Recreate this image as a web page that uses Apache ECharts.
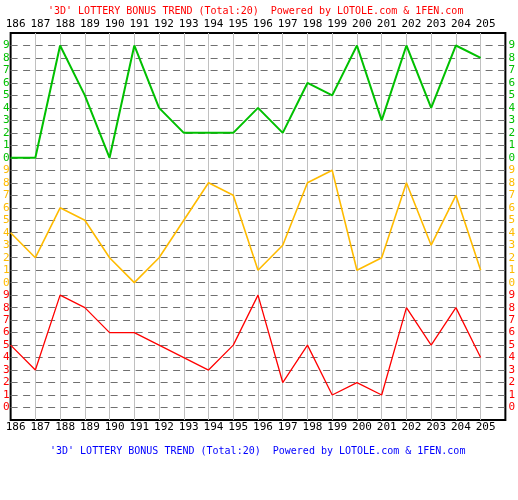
<!DOCTYPE html>
<html>
<head>
<meta charset="utf-8">
<script src="https://cdn.jsdelivr.net/npm/echarts@6/dist/echarts.min.js"></script>
<style>html,body{margin:0;padding:0;background:#fff;}#c{width:518px;height:500px;}</style>
</head>
<body>
<div id="c"></div>
<script>
const issues = [186,187,188,189,190,191,192,193,194,195,196,197,198,199,200,201,202,203,204,205];
const greenDigits  = [0,0,9,5,0,9,4,2,2,2,4,2,6,5,9,3,9,4,9,8];
const yellowDigits = [4,2,6,5,2,0,2,5,8,7,1,3,8,9,1,2,8,3,7,1];
const redDigits    = [5,3,9,8,6,6,5,4,3,5,9,2,5,1,2,1,8,5,8,4];
const titleText = "'3D' LOTTERY BONUS TREND (Total:20)  Powered by LOTOLE.com & 1FEN.com";

const GREEN = '#00c000', YELLOW = '#ffbb00', RED = '#ff0000';
const mono = 'DejaVu Sans Mono';

function blockColor(v){ v = Number(v); return v >= 20 ? GREEN : (v >= 10 ? YELLOW : RED); }
function yFmt(v){ v = Number(v); if (v < 0 || v > 29) return ''; return String(v % 10); }
function pts(arr, off){ return issues.map((x,i)=>[x, arr[i]+off]); }

const ySplitColors = [];
for (let v=-1; v<=30; v++) ySplitColors.push((v<0||v>29)?'rgba(0,0,0,0)':'#707070');
const xSplitColors = [];
for (let x=186; x<=206; x++) xSplitColors.push((x===186||x===206)?'rgba(0,0,0,0)':'#c0c0c0');

const chart = echarts.init(document.getElementById('c'), null, {renderer:'canvas'});
const xLabel = {fontFamily: mono, fontSize: 11, color: '#000', padding:[0,0,0,10],
  formatter: v => (v>205 ? '' : String(v))};
chart.setOption({
  animation: false,
  backgroundColor: '#fff',
  title: [
    {text: titleText, left: 43, top: 1, textStyle:{fontFamily: mono, fontSize: 10, fontWeight:'normal', color: RED}},
    {text: titleText, left: 45, top: 441, textStyle:{fontFamily: mono, fontSize: 10, fontWeight:'normal', color: '#0000ff'}}
  ],
  grid: {left: 8, right: 11, top: 33, bottom: 80, show: true, borderColor: '#000', borderWidth: 2, backgroundColor:'#fff'},
  xAxis: [
    {type:'value', min:186, max:206, interval:1, position:'bottom',
     axisLine:{show:false}, axisTick:{show:false},
     axisLabel:Object.assign({margin:2}, xLabel),
     splitLine:{show:true, lineStyle:{color: xSplitColors, width:1}}},
    {type:'value', min:186, max:206, interval:1, position:'top',
     axisLine:{show:false}, axisTick:{show:false},
     axisLabel:Object.assign({margin:3}, xLabel),
     splitLine:{show:false}}
  ],
  yAxis: [
    {type:'value', min:-1, max:30, interval:1, position:'left',
     axisLine:{show:false}, axisTick:{show:false},
     axisLabel:{fontFamily: mono, fontSize: 11, margin: 1, formatter: yFmt, color: blockColor},
     splitLine:{show:true, lineStyle:{color: ySplitColors, type:[7,5.5], width:1}}},
    {type:'value', min:-1, max:30, interval:1, position:'right',
     axisLine:{show:false}, axisTick:{show:false},
     axisLabel:{fontFamily: mono, fontSize: 11, margin: 3, formatter: yFmt, color: blockColor},
     splitLine:{show:false}}
  ],
  series: [
    {type:'line', data: pts(greenDigits, 20), symbol:'none', lineStyle:{color: GREEN, width: 2}, itemStyle:{color:GREEN}},
    {type:'line', data: pts(yellowDigits, 10), symbol:'none', lineStyle:{color: YELLOW, width: 1.6}, itemStyle:{color:YELLOW}},
    {type:'line', data: pts(redDigits, 0), symbol:'none', lineStyle:{color: RED, width: 1.3}, itemStyle:{color:RED}}
  ]
});
</script>
</body>
</html>
